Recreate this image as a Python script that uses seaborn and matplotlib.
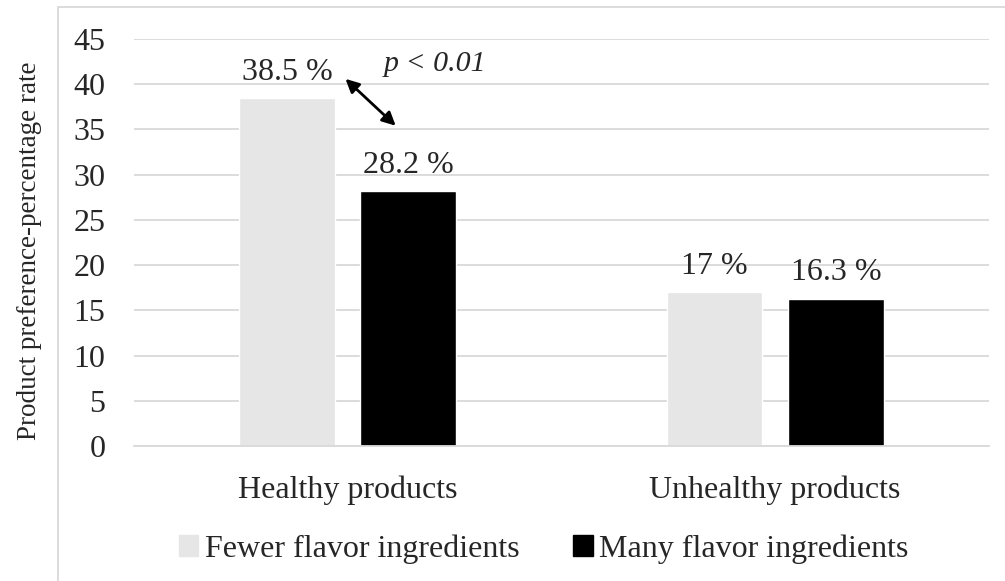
import numpy as np
import pandas as pd
import matplotlib
matplotlib.use('Agg')
import matplotlib.pyplot as plt
import matplotlib.patches as mpatches
import seaborn as sns

# data
categories = ['Healthy products', 'Unhealthy products']
groups = ['Fewer flavor ingredients', 'Many flavor ingredients']
fewer = [38.5, 17.0]
many = [28.2, 16.3]
bar_labels_fewer = ['38.5 %', '17 %']
bar_labels_many = ['28.2 %', '16.3 %']
yticks = [0, 5, 10, 15, 20, 25, 30, 35, 40, 45]

df = pd.DataFrame({
    'category': categories * 2,
    'group': [groups[0]] * 2 + [groups[1]] * 2,
    'value': fewer + many,
})

sns.set_style('white')
plt.rcParams['font.family'] = ['Liberation Serif', 'DejaVu Serif']

fig = plt.figure(figsize=(10.05, 5.81), dpi=100)
ax = fig.add_axes([0.1333, 0.2324, 0.8507, 0.7005])

palette = {groups[0]: '#e7e6e6', groups[1]: '#000000'}
sns.barplot(data=df, x='category', y='value', hue='group', palette=palette,
            width=0.568, gap=0.21, saturation=1, ax=ax, legend=False)

ax.set_ylim(0, 45)
ax.set_xlim(-0.5, 1.5)
ax.set_yticks(yticks)
ax.yaxis.grid(True, color='#d9d9d9', linewidth=1.3)
ax.set_axisbelow(True)
for s in ['top', 'right', 'left']:
    ax.spines[s].set_visible(False)
ax.spines['bottom'].set_color('#d9d9d9')
ax.spines['bottom'].set_linewidth(1.3)
ax.tick_params(axis='y', length=0, pad=20.5, labelsize=23)
ax.tick_params(axis='x', length=0, pad=21, labelsize=23)
ax.set_xlabel('')
ax.set_ylabel('Product preference-percentage rate', fontsize=19.5)
ax.yaxis.set_label_coords(-0.108, 0.48)

ax.bar_label(ax.containers[0], labels=bar_labels_fewer, padding=8, fontsize=23)
ax.bar_label(ax.containers[1], labels=bar_labels_many, padding=8, fontsize=23)

# significance arrow
ax.annotate('', xy=(-0.01, 40.8), xytext=(0.117, 35.2),
            arrowprops=dict(arrowstyle='<|-|>', color='black', lw=2,
                            mutation_scale=20))
ax.text(0.204, 42.2, 'p < 0.01', fontsize=21.5, style='italic', ha='center', va='center')

handles = [mpatches.Patch(color=palette[g], label=g) for g in groups]
fig.legend(handles=handles, loc='center', bbox_to_anchor=(0.541, 0.055), ncol=2,
           frameon=False, fontsize=23, handlelength=0.6, handleheight=0.6,
           handletextpad=0.2, columnspacing=1.7)

# outer chart border
fig.patches.append(mpatches.Rectangle((58 / 1005, -0.1), 1.2, 1 - 7 / 581 + 0.1,
                                      transform=fig.transFigure, fill=False,
                                      edgecolor='#d9d9d9', linewidth=1.3))

fig.savefig('out.png', dpi=100)
